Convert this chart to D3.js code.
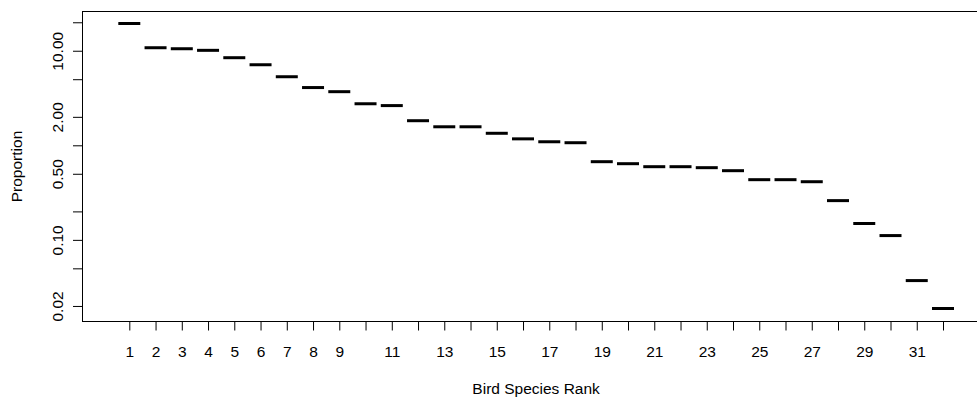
<!DOCTYPE html>
<html>
<head>
<meta charset="utf-8">
<script src="https://cdn.jsdelivr.net/npm/d3@7"></script>
<style>
  body { margin: 0; background: #fff; }
  svg { display: block; font-family: "Liberation Sans", Arial, sans-serif; }
</style>
</head>
<body>
<div id="chart"></div>
<script>
// species rank and proportion (%)
const ranks = d3.range(1, 33);
const proportions = [
  19.4, 10.76, 10.5, 10.1, 8.44, 7.11, 5.31, 4.08, 3.69, 2.75, 2.63, 1.82,
  1.57, 1.57, 1.34, 1.17, 1.09, 1.065, 0.671, 0.639, 0.594, 0.594, 0.58, 0.539,
  0.433, 0.433, 0.412, 0.26, 0.149, 0.111, 0.0371, 0.0188
];
const yTickValues = [20, 10, 5, 2, 1, 0.5, 0.2, 0.1, 0.05, 0.02];
const yTickLabels = ['', '10.00', '', '2.00', '', '0.50', '', '0.10', '', '0.02'];
const xTickLabels = ranks.map(r => (r <= 9 || r % 2 === 1) ? String(r) : '');

const width = 977, height = 397;
const box = {left: 82.5, top: 11.5, bottom: 321.5};
const fontSize = 15.5;

const svg = d3.select('#chart').append('svg')
  .attr('width', width)
  .attr('height', height);

const x = d3.scaleLinear().domain([1, 32]).range([129.3, 943]);
const y = d3.scaleLog().domain([0.0137, 26]).range([box.bottom, box.top]);

const boxRight = x(32 + 1.78);

// frame (right side runs past the window)
svg.append('rect')
  .attr('x', box.left)
  .attr('y', box.top)
  .attr('width', boxRight - box.left)
  .attr('height', box.bottom - box.top)
  .attr('fill', 'none')
  .attr('stroke', '#000')
  .attr('stroke-width', 1);

// x axis
const xAxis = svg.append('g')
  .attr('transform', `translate(0,${box.bottom})`)
  .call(d3.axisBottom(x)
    .tickValues(ranks)
    .tickFormat((d, i) => xTickLabels[i])
    .tickSize(9)
    .tickPadding(15.2));
xAxis.select('.domain').remove();
xAxis.selectAll('text').attr('font-size', fontSize).attr('fill', '#000').attr('font-family', null);
xAxis.selectAll('line').attr('stroke', '#000');

// y axis
const yAxis = svg.append('g')
  .attr('transform', `translate(${box.left},0)`)
  .call(d3.axisLeft(y)
    .tickValues(yTickValues)
    .tickFormat((d, i) => yTickLabels[i])
    .tickSize(9.5));
yAxis.select('.domain').remove();
yAxis.selectAll('line').attr('stroke', '#000');
yAxis.selectAll('text')
  .attr('x', null).attr('dy', null)
  .attr('font-size', fontSize).attr('fill', '#000').attr('font-family', null)
  .attr('text-anchor', 'middle')
  .attr('transform', 'translate(-19.5,0) rotate(-90)');

// one dash per species
svg.append('g')
  .selectAll('line')
  .data(ranks)
  .join('line')
  .attr('x1', d => x(d) - 11)
  .attr('x2', d => x(d) + 11)
  .attr('y1', (d, i) => y(proportions[i]))
  .attr('y2', (d, i) => y(proportions[i]))
  .attr('stroke', '#000')
  .attr('stroke-width', 3);

// axis titles
svg.append('text')
  .attr('x', (box.left + boxRight) / 2)
  .attr('y', 394)
  .attr('text-anchor', 'middle')
  .attr('font-size', fontSize)
  .text('Bird Species Rank');

svg.append('text')
  .attr('transform', `translate(21.5,${(box.top + box.bottom) / 2}) rotate(-90)`)
  .attr('text-anchor', 'middle')
  .attr('font-size', fontSize)
  .text('Proportion');
</script>
</body>
</html>
